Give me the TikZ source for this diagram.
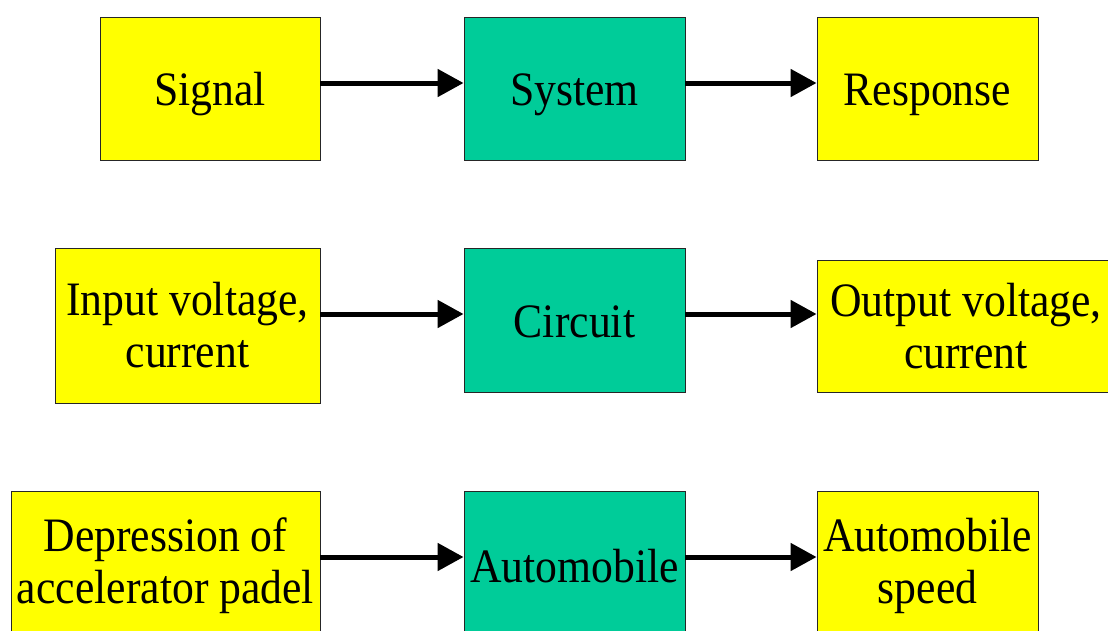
\documentclass[tikz,border=0pt]{standalone}
\usepackage{fontspec}
\setmainfont[FakeStretch=0.91]{Liberation Serif}
\usepackage{tikz}
\usetikzlibrary{arrows.meta,positioning}
\definecolor{boxyellow}{RGB}{255,255,0}
\definecolor{boxgreen}{RGB}{0,204,153}
\tikzstyle{block}=[rectangle,draw=black!85,line width=0.9pt,align=center,inner sep=0pt,font=\fontsize{48}{52}\selectfont]
\tikzstyle{oneline}=[text height=34pt,text depth=0pt]
\tikzstyle{signalbox}=[block,fill=boxyellow]
\tikzstyle{systembox}=[block,fill=boxgreen]
\tikzstyle{flow} = [draw,line width=5pt,-{Triangle[length=26pt,width=27pt]}]

\begin{document}
\begin{tikzpicture}[x=1pt,y=-1pt]
    \useasboundingbox (0,0) rectangle (1108,630);

    % first row
    \node[signalbox,oneline,minimum width=220pt,minimum height=143pt] (signal) at (210,88.5) {Signal};
    \node[systembox,oneline,minimum width=221pt,minimum height=143pt] (system) at (574.5,88.5) {System};
    \node[signalbox,oneline,minimum width=221pt,minimum height=143pt] (response) at (927.5,88.5) {Response};

    % second row
    \node[signalbox,minimum width=265pt,minimum height=155pt] (input) at (187.5,325.5) {Input voltage,\\current};
    \node[systembox,oneline,minimum width=221pt,minimum height=144pt] (circuit) at (574.5,320) {Circuit};
    \node[signalbox,minimum width=298pt,minimum height=132pt] (output) at (966,326) {Output voltage,\\current};

    % third row
    \node[signalbox,minimum width=309pt,minimum height=149pt] (pedal) at (165.5,565.5) {Depression of\\accelerator padel};
    \node[systembox,oneline,minimum width=221pt,minimum height=149pt] (automobile) at (574.5,565.5) {Automobile};
    \node[signalbox,minimum width=221pt,minimum height=149pt] (speed) at (927.5,565.5) {Automobile\\speed};

    % arrows, slightly above the centre line
    \foreach \source/\dest/\shift in {signal/system/5.5, system/response/5.5, input/circuit/6, circuit/output/12, pedal/automobile/8.5, automobile/speed/8.5}
        \path[flow] ([yshift=\shift pt]\dest.west -| \source.east) -- ([yshift=\shift pt]\dest.west);

\end{tikzpicture}
\end{document}
